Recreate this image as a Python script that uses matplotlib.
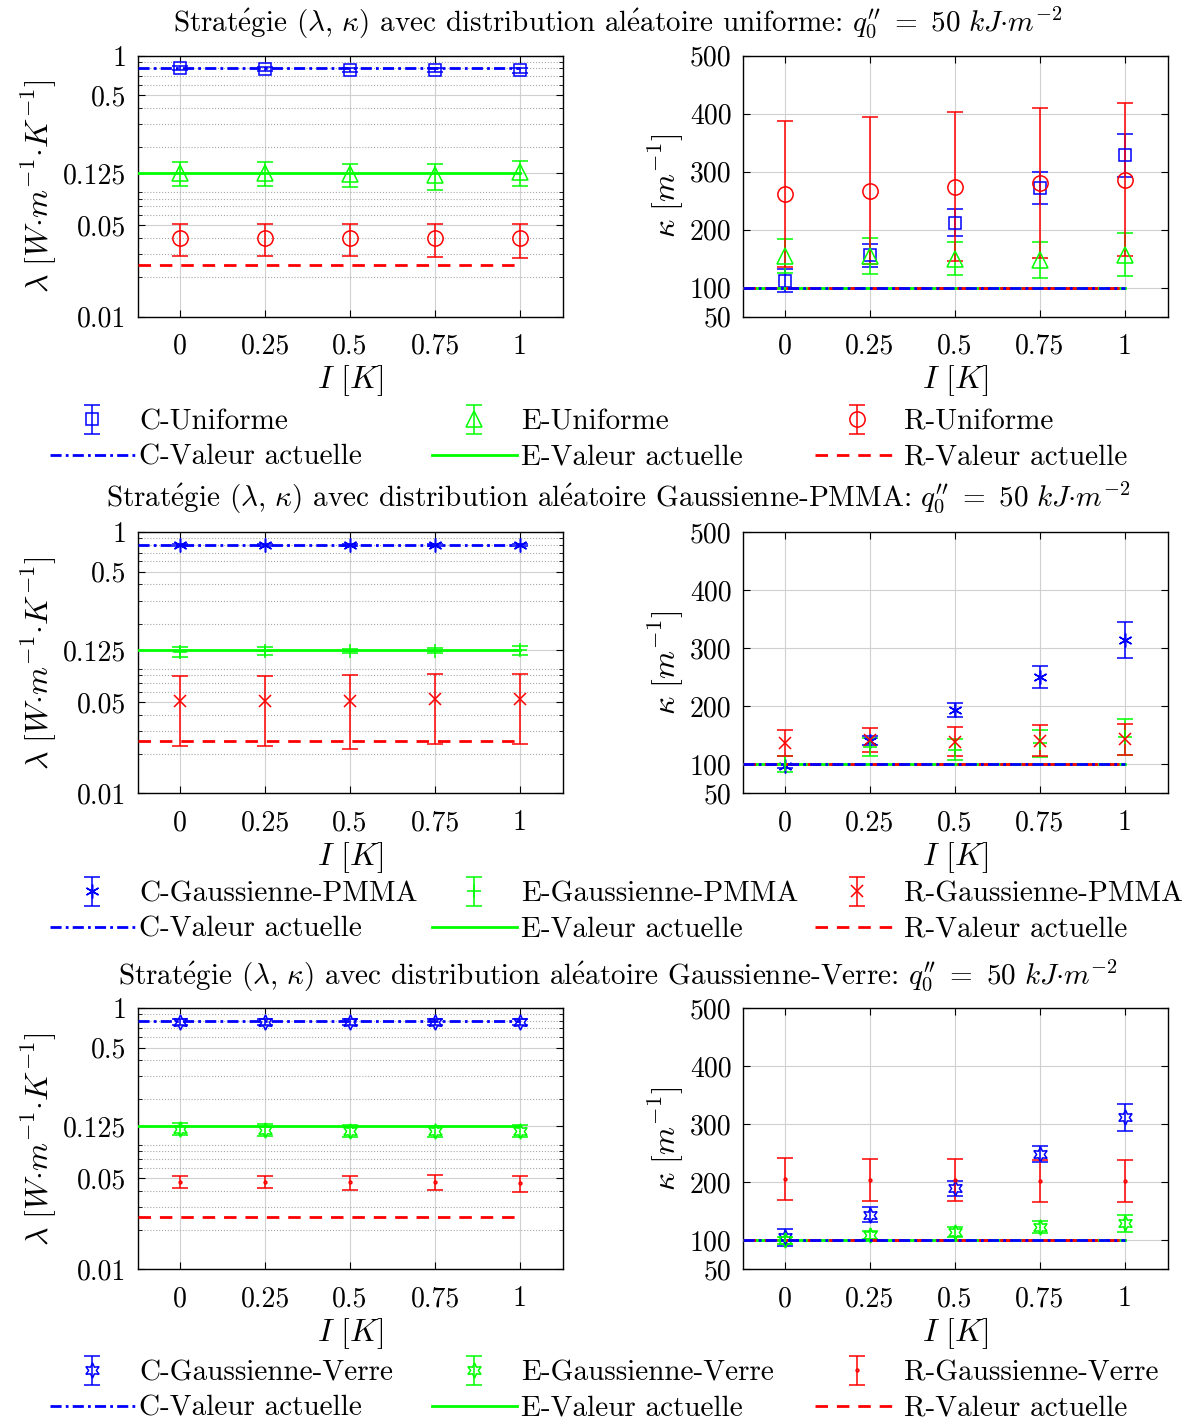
import matplotlib
matplotlib.use("Agg")
import matplotlib.pyplot as plt
from matplotlib.ticker import FixedLocator, FixedFormatter, LogLocator, NullFormatter

plt.rcParams['font.family'] = ['cmr10', 'DejaVu Serif']
plt.rcParams['mathtext.fontset'] = 'cm'
plt.rcParams['axes.formatter.use_mathtext'] = True

# --- data ---
x = [0, 0.25, 0.5, 0.75, 1]
ref_x = [-0.125, 1.0]

# current values ("Valeur actuelle")
lam_ref_C, lam_ref_E, lam_ref_R = 0.8, 0.125, 0.025
kap_ref_C, kap_ref_E, kap_ref_R = 100, 100, 100

# uniforme
lam_C_uni = [0.80, 0.79, 0.78, 0.78, 0.77]
lam_C_uni_err = [0.03, 0.03, 0.03, 0.03, 0.03]
lam_E_uni = [0.127, 0.127, 0.123, 0.121, 0.128]
lam_E_uni_err = [0.026, 0.026, 0.025, 0.027, 0.028]
lam_R_uni = [0.040, 0.040, 0.040, 0.040, 0.040]
lam_R_uni_err = [0.011, 0.011, 0.011, 0.0115, 0.0117]
kap_C_uni = [112, 156, 212, 272, 328]
kap_C_uni_err = [20, 20, 23, 28, 37]
kap_E_uni = [155, 155, 150, 147, 157]
kap_E_uni_err = [29, 31, 29, 31, 37]
kap_R_uni = [261, 267, 274, 280, 286]
kap_R_uni_err = [126, 127, 128, 129, 132]

# gaussienne PMMA
lam_C_pmma = [0.80, 0.80, 0.80, 0.80, 0.80]
lam_C_pmma_err = [0.02, 0.02, 0.02, 0.02, 0.02]
lam_E_pmma = [0.121, 0.123, 0.123, 0.124, 0.125]
lam_E_pmma_err = [0.011, 0.008, 0.004, 0.005, 0.010]
lam_R_pmma = [0.051, 0.051, 0.051, 0.0527, 0.0527]
lam_R_pmma_err = [0.028, 0.028, 0.029, 0.029, 0.029]
kap_C_pmma = [97, 141, 193, 250, 314]
kap_C_pmma_err = [4, 8, 12, 19, 31]
kap_E_pmma = [100, 130, 125, 136, 147]
kap_E_pmma_err = [14, 16, 18, 23, 31]
kap_R_pmma = [137, 142, 139, 141, 143]
kap_R_pmma_err = [22, 20, 25, 27, 27]

# gaussienne verre
lam_C_verre = [0.79, 0.79, 0.79, 0.79, 0.79]
lam_C_verre_err = [0.04, 0.04, 0.04, 0.04, 0.04]
lam_E_verre = [0.119, 0.117, 0.115, 0.114, 0.115]
lam_E_verre_err = [0.012, 0.012, 0.0115, 0.011, 0.012]
lam_R_verre = [0.0466, 0.0466, 0.0464, 0.0465, 0.0457]
lam_R_verre_err = [0.0049, 0.0049, 0.0057, 0.0063, 0.0064]
kap_C_verre = [105, 144, 190, 249, 312]
kap_C_verre_err = [15, 13, 13, 14, 23]
kap_E_verre = [100, 109, 114, 123, 129]
kap_E_verre_err = [6, 7.5, 8.6, 11, 15]
kap_R_verre = [206, 204, 204, 202, 202]
kap_R_verre_err = [36, 36, 36, 36.5, 36]

lam_ticks = [0.01, 0.05, 0.125, 0.5, 1]
lam_ticklabels = ["0.01", "0.05", "0.125", "0.5", "1"]
kap_ticks = [50, 100, 200, 300, 400, 500]
x_ticklabels = ["0", "0.25", "0.5", "0.75", "1"]

titles = ["Uniforme", "Gaussienne-PMMA", "Gaussienne-Verre"]
title_dist = ["uniforme", "Gaussienne-PMMA", "Gaussienne-Verre"]

BLUE, GREEN, RED = (0, 0, 1), (0, 1, 0), (1, 0, 0)
hexagram = (6, 1, 0)
asterisk = (6, 2, 0)

rows = [
    dict(lam=[(lam_C_uni, lam_C_uni_err), (lam_E_uni, lam_E_uni_err), (lam_R_uni, lam_R_uni_err)],
         kap=[(kap_C_uni, kap_C_uni_err), (kap_E_uni, kap_E_uni_err), (kap_R_uni, kap_R_uni_err)],
         markers=[('s', 9), ('^', 11), ('o', 11)], bottom=0.7778, title_y=22, leg_y=440),
    dict(lam=[(lam_C_pmma, lam_C_pmma_err), (lam_E_pmma, lam_E_pmma_err), (lam_R_pmma, lam_R_pmma_err)],
         kap=[(kap_C_pmma, kap_C_pmma_err), (kap_E_pmma, kap_E_pmma_err), (kap_R_pmma, kap_R_pmma_err)],
         markers=[(asterisk, 10), ('+', 10), ('x', 8)], bottom=0.4433, title_y=497, leg_y=912),
    dict(lam=[(lam_C_verre, lam_C_verre_err), (lam_E_verre, lam_E_verre_err), (lam_R_verre, lam_R_verre_err)],
         kap=[(kap_C_verre, kap_C_verre_err), (kap_E_verre, kap_E_verre_err), (kap_R_verre, kap_R_verre_err)],
         markers=[(hexagram, 11), (hexagram, 11), ('.', 4)], bottom=0.1093, title_y=975, leg_y=1391),
]

W, H = 1192, 1425
fig = plt.figure(figsize=(W / 100, H / 100), dpi=100)
FS = 20
colors = [BLUE, GREEN, RED]
prefix = ["C", "E", "R"]
ref_lam = [lam_ref_C, lam_ref_E, lam_ref_R]
ref_kap = [kap_ref_C, kap_ref_E, kap_ref_R]
ref_style = [dict(dashes=(4, 1.5, 1, 1.5)), dict(linestyle='-'), dict(dashes=(4.5, 3.2))]
e_acute = r"$\mathrm{\acute{e}}$"


def style_axes(ax):
    ax.set_xlim(-0.125, 1.125)
    ax.xaxis.set_major_locator(FixedLocator(x))
    ax.xaxis.set_major_formatter(FixedFormatter(x_ticklabels))
    ax.tick_params(which='both', direction='in', top=True, right=True, labelsize=FS)
    ax.tick_params(axis='x', pad=12)
    ax.tick_params(axis='y', pad=8)
    ax.tick_params(which='major', length=5, width=0.8)
    ax.tick_params(which='minor', length=3, width=0.6)
    ax.grid(True, which='major', color='#d0d0d0', linewidth=0.8)
    ax.set_axisbelow(True)
    for s in ax.spines.values():
        s.set_linewidth(1.0)
    ax.set_xlabel(r"$I\ [K]$", fontsize=FS + 3)
    ax.xaxis.set_label_coords(0.5, -0.245)
    ax.xaxis.label.set_va('center')


for n, row in enumerate(rows):
    axL = fig.add_axes([137.5 / W, row['bottom'], 425 / W, 261 / H])
    axR = fig.add_axes([742.5 / W, row['bottom'], 425 / W, 261 / H])

    # lambda panel
    axL.set_yscale('log')
    axL.set_ylim(0.01, 1)
    style_axes(axL)
    axL.yaxis.set_major_locator(FixedLocator(lam_ticks))
    axL.yaxis.set_major_formatter(FixedFormatter(lam_ticklabels))
    axL.yaxis.set_minor_locator(LogLocator(subs=range(2, 10)))
    axL.yaxis.set_minor_formatter(NullFormatter())
    axL.grid(True, which='minor', axis='y', color='#a8a8a8', linestyle=':', linewidth=0.8)
    axL.set_ylabel(r"$\lambda\ [W{\cdot}m^{-1}{\cdot}K^{-1}]$", fontsize=FS + 3)
    axL.yaxis.set_label_coords(-0.23, 0.5)
    axL.yaxis.label.set_va('center')

    # kappa panel
    axR.set_ylim(50, 500)
    style_axes(axR)
    axR.yaxis.set_major_locator(FixedLocator(kap_ticks))
    axR.yaxis.set_major_formatter(FixedFormatter([str(t) for t in kap_ticks]))
    axR.set_ylabel(r"$\kappa\ [m^{-1}]$", fontsize=FS + 3)
    axR.yaxis.label.set_va('center')
    axR.yaxis.set_label_coords(-0.18, 0.5)

    handles = []
    for i in range(3):
        mk, ms = row['markers'][i]
        c = colors[i]
        for ax, key in ((axL, 'lam'), (axR, 'kap')):
            vals, errs = row[key][i]
            eb = ax.errorbar(x, vals, yerr=errs, linestyle='none',
                             marker=mk, ms=ms, mfc='none', mec=c, mew=1.1, color=c,
                             ecolor=c, elinewidth=1.1, capsize=6, capthick=1.1, zorder=3)
            if ax is axL:
                handles.append(eb)
    lines = {}
    for i in [1, 2, 0]:
        lnL, = axL.plot(ref_x, [ref_lam[i]] * 2, color=colors[i], lw=2, zorder=4, **ref_style[i])
        axR.plot(ref_x, [ref_kap[i]] * 2, color=colors[i], lw=2, zorder=4, **ref_style[i])
        lines[i] = lnL

    fig.text(618 / W, 1 - row['title_y'] / H,
             "Strat" + e_acute + "gie $(\\lambda,\\,\\kappa)$ avec distribution al" + e_acute +
             "atoire " + title_dist[n] +
             ": $q_0^{\\prime\\prime}\\ =\\ 50\\ kJ{\\cdot}m^{-2}$",
             ha='center', va='center', fontsize=FS + 1)

    for i, x0 in enumerate([50, 432, 815]):
        fig.legend(handles=[handles[i], lines[i]],
                   labels=[f"{prefix[i]}-{titles[n]}", f"{prefix[i]}-Valeur actuelle"],
                   loc='center left', bbox_to_anchor=(x0 / W, 1 - row['leg_y'] / H),
                   frameon=False, fontsize=FS + 1, handlelength=2.9, handletextpad=0.15,
                   labelspacing=0.3, borderpad=0, borderaxespad=0)

fig.savefig("out.png", dpi=100)
